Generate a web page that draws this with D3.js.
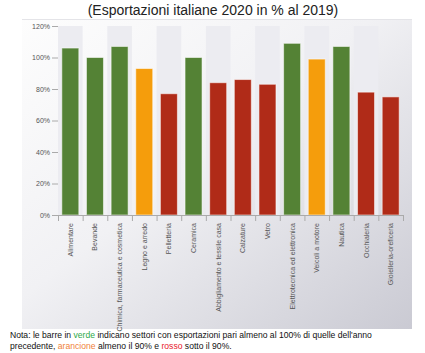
<!DOCTYPE html>
<html>
<head>
<meta charset="utf-8">
<script src="https://cdn.jsdelivr.net/npm/d3@7"></script>
<style>
html,body{margin:0;padding:0;background:#fff;}
svg{display:block;}
</style>
</head>
<body>
<svg id="chart" width="425" height="353"></svg>
<script>
const categories = ["Alimentare","Bevande","Chimica, farmaceutica e cosmetica","Legno e arredo","Pelletteria","Ceramica","Abbigliamento e tessile casa","Calzature","Vetro","Elettrotecnica ed elettronica","Veicoli a motore","Nautica","Occhialeria","Gioielleria-oreficeria"];
const values = [106, 100, 107, 93, 77, 100, 84, 86, 83, 109, 99, 107, 78, 75];
const yTicks = [0, 20, 40, 60, 80, 100, 120];

const colorFor = v => v >= 100 ? "#548235" : (v >= 90 ? "#f59d0c" : "#b02b18");

const svg = d3.select("#chart");
const font = "'Liberation Sans', Arial, sans-serif";

const defs = svg.append("defs");
const grad = defs.append("linearGradient").attr("id","bg").attr("x1","0").attr("y1","0").attr("x2","1").attr("y2","1");
grad.append("stop").attr("offset","0%").attr("stop-color","#fdfdfd");
grad.append("stop").attr("offset","45%").attr("stop-color","#f1f1f4");
grad.append("stop").attr("offset","100%").attr("stop-color","#cacad3");

// panel
svg.append("rect").attr("x",22).attr("y",19).attr("width",390).attr("height",310).attr("fill","url(#bg)");
svg.append("line").attr("x1",22).attr("x2",412).attr("y1",19.5).attr("y2",19.5).attr("stroke","#e4e4e8");

const x = d3.scaleBand().domain(categories).range([58, 403]).paddingInner(0).paddingOuter(0);
const y = d3.scaleLinear().domain([0,120]).range([215, 26]);

// alternating bands
svg.append("g").selectAll("rect").data(categories.filter((d,i)=>i%2===0)).join("rect")
  .attr("x", d => x(d)).attr("width", x.bandwidth())
  .attr("y", y(120)).attr("height", y(0)-y(120))
  .attr("fill","#ececf1");

// bars
const bw = 17;
svg.append("g").selectAll("rect").data(categories).join("rect")
  .attr("x", d => x(d) + x.bandwidth()/2 - bw/2)
  .attr("width", bw)
  .attr("y", (d,i) => y(values[i]))
  .attr("height", (d,i) => y(0) - y(values[i]))
  .attr("fill", (d,i) => colorFor(values[i]))
  .attr("stroke","rgba(255,255,255,0.55)").attr("stroke-width",1);

// y axis
const yAxis = d3.axisLeft(y).tickValues(yTicks).tickFormat(d => d + "%").tickSize(6).tickPadding(2);
const gy = svg.append("g").attr("transform","translate(58,0)").call(yAxis);
gy.select(".domain").remove();
gy.selectAll(".tick line").attr("stroke","#aaa");
gy.selectAll(".tick text").attr("fill","#555").style("font-family",font).style("font-size","7px");

// x axis
const gx = svg.append("g").attr("transform","translate(0,215)");
gx.append("line").attr("x1",52).attr("x2",403).attr("y1",0.5).attr("y2",0.5).attr("stroke","#aaa");
const bounds = categories.map(d => x(d)).concat([x.range()[1]]);
gx.selectAll("line.tk").data(bounds).join("line").attr("class","tk")
  .attr("x1", d => d + 0.5).attr("x2", d => d + 0.5).attr("y1",0).attr("y2",6).attr("stroke","#aaa");
gx.selectAll("text").data(categories).join("text")
  .attr("transform", d => `translate(${x(d)+x.bandwidth()/2+2.5},8) rotate(-90)`)
  .attr("text-anchor","end")
  .attr("fill","#555")
  .style("font-family",font).style("font-size","7px")
  .text(d => d);

// title
svg.append("text").attr("x",213).attr("y",15).attr("text-anchor","middle")
  .attr("fill","#222").style("font-family",font).style("font-size","14px")
  .text("(Esportazioni italiane 2020 in % al 2019)");

// note
const note = svg.append("g").style("font-family",font).style("font-size","8.6px").attr("fill","#111");
const t1 = note.append("text").attr("x",10).attr("y",338);
t1.append("tspan").text("Nota: le barre in ");
t1.append("tspan").attr("fill","#2eaa4a").text("verde");
t1.append("tspan").text(" indicano settori con esportazioni pari almeno al 100% di quelle dell'anno");
const t2 = note.append("text").attr("x",10).attr("y",349);
t2.append("tspan").text("precedente, ");
t2.append("tspan").attr("fill","#f0823a").text("arancione");
t2.append("tspan").text(" almeno il 90% e ");
t2.append("tspan").attr("fill","#e8202c").text("rosso");
t2.append("tspan").text(" sotto il 90%.");
</script>
</body>
</html>
